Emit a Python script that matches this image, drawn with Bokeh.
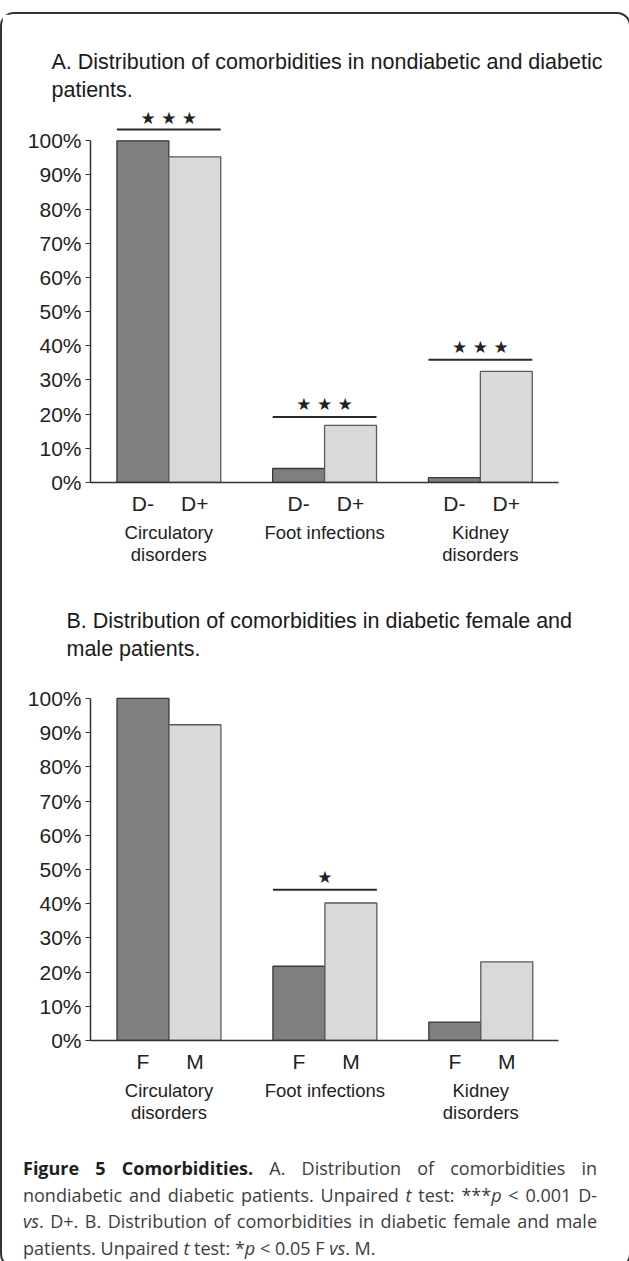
from bokeh.plotting import figure
from bokeh.models import FixedTicker, PrintfTickFormatter, LinearAxis, Div, Range1d
from bokeh.layouts import column
from bokeh.core.properties import value
from bokeh.embed import file_html
from bokeh.resources import INLINE

# ---------------- data ----------------
groups = ["Circulatory\ndisorders", "Foot infections", "Kidney\ndisorders"]
y_ticks = [0, 10, 20, 30, 40, 50, 60, 70, 80, 90, 100]

a_title = "A. Distribution of comorbidities in nondiabetic and diabetic\npatients."
a_series = ["D-", "D+"]
a_neg = [100.0, 4.1, 1.4]
a_pos = [95.3, 16.7, 32.5]
a_sig_groups = [0, 1, 2]
a_sig_line = [103.3, 19.2, 35.9]
a_sig_star = [106.8, 22.9, 39.6]
a_sig_text = ["★ ★ ★", "★ ★ ★", "★ ★ ★"]

b_title = "B. Distribution of comorbidities in diabetic female and\nmale patients."
b_series = ["F", "M"]
b_f = [100.0, 21.7, 5.4]
b_m = [92.3, 40.2, 23.0]
b_sig_groups = [1]
b_sig_line = [44.1]
b_sig_star = [47.8]
b_sig_text = ["★"]

# caption lines: list of (style, text) runs
caption_lines = [
    [("b", "Figure 5 Comorbidities."), ("", " A. Distribution of comorbidities in")],
    [("", "nondiabetic and diabetic patients. Unpaired "), ("i", "t"),
     ("", " test: ***"), ("i", "p"), ("", " < 0.001 D-")],
    [("i", "vs"), ("", ". D+. B. Distribution of comorbidities in diabetic female and male")],
    [("", "patients. Unpaired "), ("i", "t"), ("", " test: *"), ("i", "p"),
     ("", " < 0.05 F "), ("i", "vs"), ("", ". M.")],
]

FONT = "Liberation Sans"
DARK = "#7f7f7f"
LIGHT = "#d9d9d9"
W = 617


def esc(s):
    return s.replace("&", "&amp;").replace("<", "&lt;").replace(">", "&gt;")


def caption_html():
    out = []
    last = len(caption_lines) - 1
    for k, line in enumerate(caption_lines):
        align = "left" if k == last else "justify"
        spans = []
        for sty, txt in line:
            if sty == "b":
                css = "font-weight:700;color:#1e1e1e;"
            elif sty == "i":
                css = "font-style:italic;"
            else:
                css = ""
            spans.append('<span style="%s">%s</span>' % (css, esc(txt)))
        out.append('<div style="text-align:%s;text-align-last:%s;height:26.5px;'
                   'white-space:nowrap;">%s</div>' % (align, align, "".join(spans)))
    return ('<div style="font-family:\'Open Sans\',sans-serif;font-size:18px;'
            'line-height:26.5px;color:#3d3d3d;width:590px;padding-left:16px;">'
            + "".join(out) + "</div>")


def make_chart(title, series, v0, v1, sig_g, sig_line, sig_star, sig_text,
               height, borders, xr, ymax, title_offset, title_standoff):
    left, right, top, bottom = borders
    p = figure(width=W, height=height, output_backend="svg", toolbar_location=None,
               x_range=Range1d(*xr), y_range=Range1d(0, ymax),
               min_border_left=left, min_border_right=right,
               min_border_top=top, min_border_bottom=bottom,
               x_axis_type=None, y_axis_type=None)
    p.outline_line_color = None
    p.background_fill_color = "white"
    p.border_fill_color = "white"
    p.grid.visible = False

    p.title.text = title
    p.title.text_font = FONT
    p.title.text_font_size = "21.5px"
    p.title.text_font_style = "normal"
    p.title.text_color = "#1a1a1a"
    p.title.align = "left"
    p.title.offset = title_offset
    p.title.standoff = title_standoff
    p.title.text_line_height = 1.18

    n = len(groups)
    x0 = [6 * g for g in range(n)]
    x1 = [6 * g + 2 for g in range(n)]
    p.vbar(x=x0, top=v0, bottom=0, width=2, fill_color=DARK,
           line_color="#3a3a3a", line_width=1.3)
    p.vbar(x=x1, top=v1, bottom=0, width=2, fill_color=LIGHT,
           line_color="#5a5a5a", line_width=1.3)

    # significance bars
    p.segment(x0=[6 * g - 1 for g in sig_g], x1=[6 * g + 3 for g in sig_g],
              y0=sig_line, y1=sig_line, line_color="#2a2a2a", line_width=2)
    p.text(x=[6 * g + 1 for g in sig_g], y=sig_star, text=sig_text,
           text_font=value("DejaVu Sans"), text_font_size="17px",
           text_align="center", text_baseline="middle", text_color="#222222")

    # y axis
    ya = LinearAxis(ticker=FixedTicker(ticks=y_ticks),
                    formatter=PrintfTickFormatter(format="%d%%"))
    ya.bounds = (0, 100)
    ya.axis_line_color = "#333333"
    ya.axis_line_width = 1.5
    ya.major_tick_line_color = "#333333"
    ya.major_tick_line_width = 1.2
    ya.major_tick_out = 5
    ya.major_tick_in = 0
    ya.minor_tick_line_color = None
    ya.major_label_standoff = 4
    ya.major_label_text_font = FONT
    ya.major_label_text_font_size = "21px"
    ya.major_label_text_color = "#222222"
    p.add_layout(ya, "left")

    # x axis: series labels
    ticks = sorted(x0 + x1)
    xa = LinearAxis(ticker=FixedTicker(ticks=ticks))
    xa.major_label_overrides = {**{x: series[0] for x in x0}, **{x: series[1] for x in x1}}
    xa.axis_line_color = "#333333"
    xa.axis_line_width = 1.5
    xa.major_tick_line_color = None
    xa.minor_tick_line_color = None
    xa.major_tick_out = 0
    xa.major_tick_in = 0
    xa.major_label_standoff = 9
    xa.major_label_text_font = FONT
    xa.major_label_text_font_size = "21px"
    xa.major_label_text_color = "#222222"
    p.add_layout(xa, "below")

    # x axis: group labels
    gc = [6 * g + 1 for g in range(n)]
    ga = LinearAxis(ticker=FixedTicker(ticks=gc))
    ga.major_label_overrides = {x: groups[i] for i, x in enumerate(gc)}
    ga.axis_line_color = None
    ga.major_tick_line_color = None
    ga.minor_tick_line_color = None
    ga.major_tick_out = 0
    ga.major_tick_in = 0
    ga.major_label_standoff = 4
    ga.major_label_text_font = FONT
    ga.major_label_text_font_size = "18.5px"
    ga.major_label_text_color = "#222222"
    ga.major_label_text_line_height = 1.07
    p.add_layout(ga, "below")
    return p


pa = make_chart(a_title, a_series, a_neg, a_pos, a_sig_groups, a_sig_line, a_sig_star,
                a_sig_text, 566, (85, 50, 93, 98), (-2.017, 16.01), 109.75, -39, 10)
pb = make_chart(b_title, b_series, b_f, b_m, b_sig_groups, b_sig_line, b_sig_star,
                b_sig_text, 570, (88, 61, 108, 110), (-2.02, 15.99), 102.9, -24, 54)

cap = Div(text=caption_html(), width=W, height=106)

layout = column(pa, pb, cap, spacing=0,
                styles={"border": "2px solid #333333", "border-radius": "14px",
                        "margin-top": "12px", "background-color": "white"})

open("out.html", "w").write(file_html(layout, INLINE))
